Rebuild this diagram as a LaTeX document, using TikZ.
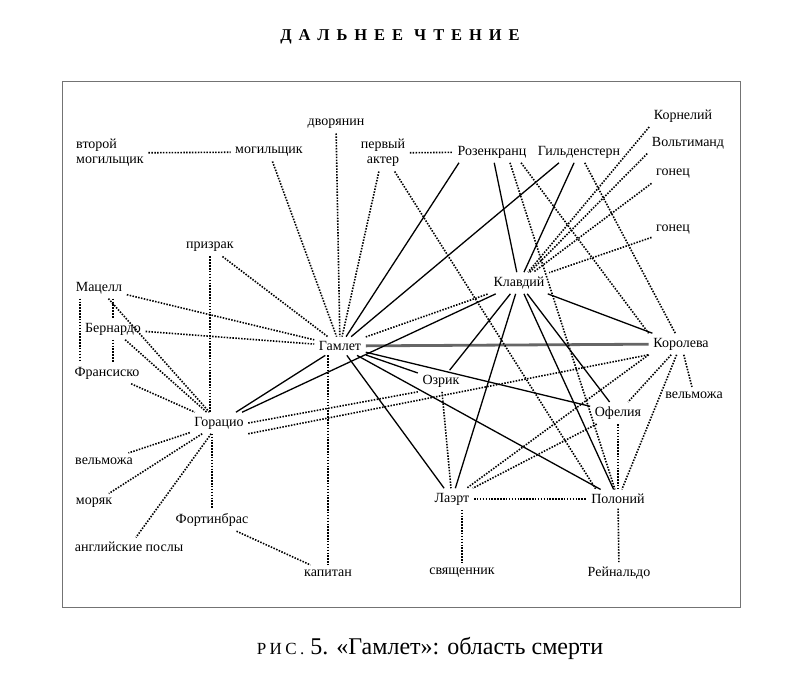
\documentclass[tikz,border=0pt]{standalone}
\usepackage{fontspec}
\setmainfont{Liberation Serif}
\usetikzlibrary{arrows.meta,positioning,calc}

\begin{document}
\begin{tikzpicture}[x=1pt,y=-1pt,
  v/.style={inner sep=4.5pt,font=\fontsize{14}{15}\selectfont},
  s/.style={line width=1.3pt},
  d/.style={line width=1.6pt,dash pattern=on 1.5pt off 1.4pt},
  hq/.style={line width=2.8pt,black!60}]
\useasboundingbox (0,0) rectangle (808,697);
\draw[black!55,line width=0.9pt] (62,81) rectangle (740,607);
\node (title) at (400,37) {\fontsize{16.5}{18}\selectfont\bfseries\addfontfeature{LetterSpace=42}ДАЛЬНЕЕ ЧТЕНИЕ};
\node (caption) at (430,648) {\fontsize{24}{26}\selectfont{\fontsize{17}{18}\selectfont\addfontfeature{LetterSpace=20}РИС.} 5. «Гамлет»: область смерти};
% top row
\node[v,align=left] (Mog2) at (110,153) {второй\\могильщик};
\node[v] (Mog) at (269,152) {могильщик};
\node[v] (Dvo) at (336,124) {дворянин};
\node[v,align=center] (Akt) at (383,153) {первый\\актер};
\node[v] (Ros) at (492,152) {Розенкранц};
\node[v] (Gil) at (579,152) {Гильденстерн};
\node[v] (Korn) at (683,116) {Корнелий};
\node[v] (Volt) at (688,143) {Вольтиманд};
\node[v] (Gon1) at (673,174) {гонец};
\node[v] (Gon2) at (673,230) {гонец};
% middle
\node[v] (Priz) at (210,247) {призрак};
\node[v] (Kla) at (519,283) {Клавдий};
\node[v] (Mac) at (99,288) {Мацелл};
\node[v] (Ber) at (113,329) {Бернардо};
\node[v] (Fra) at (107,373) {Франсиско};
\node[v] (Ham) at (340,346) {Гамлет};
\node[v] (Kor) at (681,344) {Королева};
\node[v] (Ozr) at (441,381) {Озрик};
\node[v] (Vel2) at (694,395) {вельможа};
\node[v] (Ofe) at (618,413) {Офелия};
\node[v] (Hor) at (219,423) {Горацио};
% bottom
\node[v] (Vel1) at (104,461) {вельможа};
\node[v] (Mor) at (94,503) {моряк};
\node[v] (Lae) at (452,499) {Лаэрт};
\node[v] (Pol) at (618,499) {Полоний};
\node[v] (Fort) at (212,520) {Фортинбрас};
\node[v] (Ang) at (129,547) {английские послы};
\node[v] (Kap) at (328,573) {капитан};
\node[v] (Svy) at (462,573) {священник};
\node[v] (Rei) at (619,573) {Рейнальдо};
% solid
\draw[hq] (Ham) -- (Kor);
\draw[s] (Ham) -- ([xshift=6]Ros.south west);
\draw[s] (Ham) -- ([xshift=-20]Gil.south);
\draw[s] (Ham) -- (Hor);
\draw[s] (Ham) -- (Ozr);
\draw[s] (Ham) -- (Ofe);
\draw[s] (Ham) -- (Pol);
\draw[s] (Ham) -- (Lae);
\draw[s] (Kla) -- (Ros);
\draw[s] (Kla) -- (Gil);
\draw[s] (Kla) -- (Hor);
\draw[s] (Kla) -- (Ozr);
\draw[s] (Kla) -- (Lae);
\draw[s] (Kla) -- (Pol);
\draw[s] (Kla) -- (Ofe);
\draw[s] (Kla) -- (Kor);
% dotted
\draw[d] (Mog2) -- (Mog);
\draw[d] (Mog) -- (Ham);
\draw[d] (Dvo) -- (Ham);
\draw[d] (Akt) -- (Ham);
\draw[d] (Akt) -- (Ros);
\draw[d] (Akt) -- ([xshift=-22]Pol.north);
\draw[d] ([xshift=18]Ros.south) -- (Pol);
\draw[d] ([xshift=-10]Ros.south east) -- (Kor.north west);
\draw[d] (Gil) -- (Kor);
\draw[d] (Korn.south west) -- (Kla);
\draw[d] (Volt.south west) -- (Kla);
\draw[d] (Gon1.south west) -- (Kla);
\draw[d] (Gon2) -- (Kla);
\draw[d] (Priz) -- (Ham);
\draw[d] (Priz.south) -- (Priz.south |- Hor.north);
\draw[d] (Mac) -- (Ham);
\draw[d] (Mac.south -| Ber.north) -- (Ber.north);
\draw[d] ([xshift=9]Mac.south west) -- ([xshift=9]Mac.south west |- Fra.north);
\draw[d] (Mac) -- (Hor);
\draw[d] (Ber) -- (Ham);
\draw[d] (Ber.south) -- (Ber.south |- Fra.north);
\draw[d] (Ber) -- (Hor);
\draw[d] (Fra) -- (Hor);
\draw[d] (Ham) -- (Kla);
\draw[d] (Ham.south -| Kap.north) -- (Kap.north);
\draw[d] (Hor.east) -- (Ozr.south west);
\draw[d] (Hor.south east) -- (Kor.south west);
\draw[d] (Hor) -- (Vel1);
\draw[d] (Hor) -- (Mor);
\draw[d] (Hor) -- (Ang);
\draw[d] (Fort.north |- Hor.south) -- (Fort.north);
\draw[d] (Fort) -- (Kap);
\draw[d] (Ozr) -- (Lae);
\draw[d] (Kor.south west) -- (Lae);
\draw[d] (Ofe) -- (Lae);
\draw[d] (Lae) -- (Pol);
\draw[d] (Lae.south -| Svy.north) -- (Svy.north);
\draw[d] (Kor) -- (Ofe);
\draw[d] (Kor) -- (Pol);
\draw[d] (Kor) -- (Vel2);
\draw[d] (Ofe) -- (Pol);
\draw[d] (Pol) -- (Rei);
\end{tikzpicture}
\end{document}
